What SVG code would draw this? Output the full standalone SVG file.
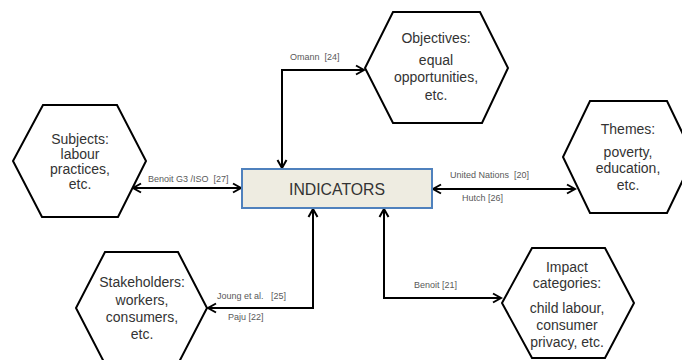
<svg xmlns="http://www.w3.org/2000/svg" width="682" height="360" viewBox="0 0 682 360">
<defs>
<marker id="arr" viewBox="0 0 12 12" refX="10" refY="6" markerWidth="12" markerHeight="12" markerUnits="userSpaceOnUse" orient="auto-start-reverse">
<path d="M2,1.5 L10,6 L2,10.5" fill="none" stroke="#000" stroke-width="2" stroke-linejoin="miter"/>
</marker>
<style>
.hex{fill:#fff;stroke:#000;stroke-width:2}
.ht{font-family:"Liberation Sans",Arial,sans-serif;font-size:14px;fill:#333;text-anchor:middle}
.lb{font-family:"Liberation Sans",Arial,sans-serif;font-size:9px;fill:#595959;white-space:pre}
.cn{fill:none;stroke:#000;stroke-width:2;marker-start:url(#arr);marker-end:url(#arr)}
</style>
</defs>
<rect width="682" height="360" fill="#fff"/>
<g id="connectors">
<line class="cn" x1="133" y1="188" x2="241" y2="188"/>
<path class="cn" d="M282,168 L282,70 L364,70"/>
<line class="cn" x1="433" y1="189" x2="575" y2="189"/>
<path class="cn" d="M313,209 L313,308 L208,308"/>
<path class="cn" d="M384,209 L384,298 L501,298"/>
<text class="lb" x="290" y="60" xml:space="preserve">Omann  [24]</text>
<text class="lb" x="148" y="182" xml:space="preserve">Benoit G3 /ISO  [27]</text>
<text class="lb" x="450" y="178" xml:space="preserve">United Nations  [20]</text>
<text class="lb" x="462" y="201">Hutch [26]</text>
<text class="lb" x="217" y="299" xml:space="preserve">Joung et al.   [25]</text>
<text class="lb" x="228" y="320">Paju [22]</text>
<text class="lb" x="414" y="288">Benoit [21]</text>
</g>
<g id="indicators">
<rect x="242" y="169" width="190" height="39" fill="#eeece1" stroke="#4f81bd" stroke-width="2"/>
<text x="337" y="195" font-family="Liberation Sans,Arial,sans-serif" font-size="17" fill="#333" text-anchor="middle" textLength="96" lengthAdjust="spacingAndGlyphs">INDICATORS</text>
</g>
<g id="subjects">
<polygon class="hex" points="43,105 117,105 146,161 118,217 42,217 13,161"/>
<text class="ht" x="80" y="144">Subjects:</text>
<text class="ht" x="80" y="159">labour</text>
<text class="ht" x="80" y="174">practices,</text>
<text class="ht" x="80" y="189">etc.</text>
</g>
<g id="objectives">
<polygon class="hex" points="393,12 480,12 508,68 482,123 393,123 365,68"/>
<text class="ht" x="436" y="43">Objectives:</text>
<text class="ht" x="436" y="65">equal</text>
<text class="ht" x="436" y="82">opportunities,</text>
<text class="ht" x="436" y="100">etc.</text>
</g>
<g id="themes">
<polygon class="hex" points="590,101 667,101 694,157 667,213 590,213 563,157"/>
<text class="ht" x="628" y="134">Themes:</text>
<text class="ht" x="628" y="157">poverty,</text>
<text class="ht" x="628" y="173">education,</text>
<text class="ht" x="628" y="190">etc.</text>
</g>
<g id="stakeholders">
<polygon class="hex" points="105,252 178,252 207,308 178,364 105,364 76,308"/>
<text class="ht" x="142" y="287">Stakeholders:</text>
<text class="ht" x="142" y="305">workers,</text>
<text class="ht" x="142" y="322">consumers,</text>
<text class="ht" x="142" y="339">etc.</text>
</g>
<g id="impact">
<polygon class="hex" points="532,248 605,248 634,303 605,358 532,358 502,303"/>
<text class="ht" x="567" y="272">Impact</text>
<text class="ht" x="567" y="288">categories:</text>
<text class="ht" x="567" y="313">child labour,</text>
<text class="ht" x="567" y="330">consumer</text>
<text class="ht" x="567" y="347">privacy, etc.</text>
</g>
</svg>
